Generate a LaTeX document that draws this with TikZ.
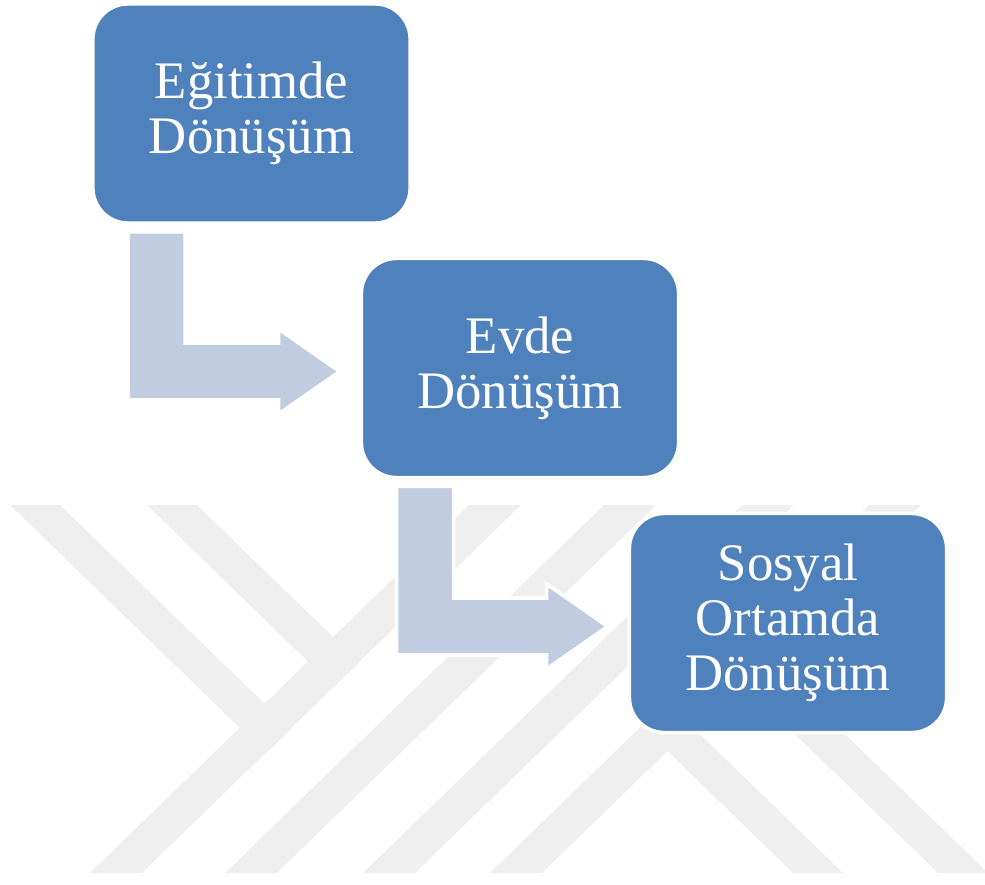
\documentclass[tikz,border=0pt]{standalone}
\usepackage{fontspec}
\setmainfont{Liberation Serif}
\usetikzlibrary{calc, positioning}
\definecolor{boxblue}{HTML}{4F81BD}
\definecolor{arrowgray}{HTML}{C1CCE1}
\definecolor{wmgray}{HTML}{EFEFEF}
\tikzset{
	stage/.style={rectangle, rounded corners=0.35cm, fill=boxblue, draw=white, line width=1pt,
		minimum width=3.17cm, minimum height=2.19cm, inner sep=0pt, align=center,
		text=white, font=\fontsize{15}{15.6}\selectfont},
	bendarrow/.style={fill=arrowgray, draw=white, line width=1pt},
	wmark/.style={fill=wmgray}
}

\begin{document}
\begin{tikzpicture}[x=0.01cm, y=-0.01cm]
		\clip (0,0) rectangle (985,885);
			%watermark, rising stripes:
			\foreach \xb in {90,225,363,490}
			\fill[wmark] (\xb,873) -- ++(52,0) -- ++(379,-368) -- ++(-52,0) -- cycle;
			%watermark, falling stripes:
			\fill[wmark] (10,505) -- (60,505) -- (290.8,729.1) -- (266,753.4) -- cycle;
			\fill[wmark] (147,505) -- (197,505) -- (359.6,662.6) -- (333.8,686.9) -- cycle;
			\fill[wmark] (793,873) -- (843,873) -- (666.5,701.6) -- (641.6,726) -- cycle;
			\fill[wmark] (938,873) -- (988,873) -- (675.5,569.6) -- (650.6,594) -- cycle;

			%steps:
			\node[stage] (egitim) at (251.5,113.5) {Eğitimde\\Dönüşüm};
			\node[stage] (evde) at (520,368) {Evde\\Dönüşüm};
			\node[stage] (sosyal) at (788,623) {Sosyal\\Ortamda\\Dönüşüm};

			%bent arrows:
			\foreach \a/\b in {egitim/evde, evde/sosyal}{
				\coordinate (s1) at ($(\a.south west)+(37,7)$);
				\coordinate (s2) at ($(\a.south west)+(94,7)$);
				\coordinate (bt) at ($(\b.west)+(0,-25)$);
				\coordinate (bb) at ($(\b.west)+(0,32)$);
				\coordinate (ht) at ($(\b.west)+(-81,-39)$);
				\coordinate (hb) at ($(\b.west)+(-81,46)$);
				\coordinate (tip) at ($(\b.west)+(-20,3.5)$);
				\filldraw[bendarrow] (s1) -- (s2) -- (s2 |- bt) -- (ht |- bt) -- (ht) -- (tip)
					-- (hb) -- (hb |- bb) -- (s1 |- bb) -- cycle;
			}
	\end{tikzpicture}
\end{document}
